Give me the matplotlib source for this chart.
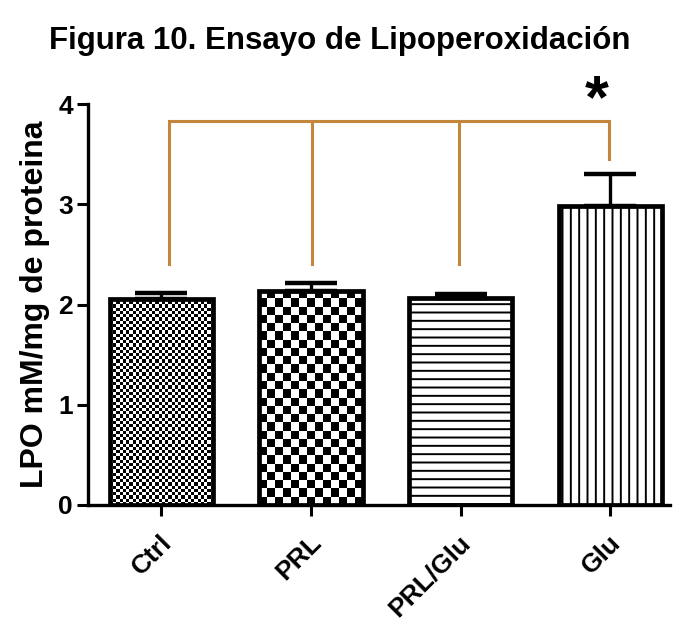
import numpy as np
import matplotlib
matplotlib.use("Agg")
import matplotlib.pyplot as plt
from matplotlib.transforms import ScaledTranslation

plt.rcParams['font.family'] = ['Liberation Sans', 'DejaVu Sans']
plt.rcParams['font.weight'] = 'bold'
plt.rcParams['hatch.linewidth'] = 1.4

# data
groups = ['Ctrl', 'PRL', 'PRL/Glu', 'Glu']
lpo_mean = [2.06, 2.14, 2.07, 2.98]
lpo_sem = [0.06, 0.08, 0.04, 0.32]
fills = ['fine', 'coarse', '--', '||']   # fill style per bar
sig_y = 3.83                            # height of the comparison bracket
drop_to = [2.41, 2.41, 2.41, 3.45]      # where each bracket leg stops

bracket_color = '#C4863C'

fig = plt.figure(figsize=(6.79, 6.28), dpi=100)
ax = fig.add_axes([0.130, 0.196, 0.857, 0.638])

x = np.arange(len(groups))
ax.set_xlim(-0.487, 3.4)
ax.set_ylim(0, 4)

#white base bars
base = ax.bar(x, lpo_mean, width=0.69, color='white', zorder=2)

#checker fills for the first two bars, clipped to the bar rectangle
def checker_fill(bar, cell_px):
    x0, y0 = bar.get_x(), bar.get_y()
    w, h = bar.get_width(), bar.get_height()
    p0 = ax.transData.transform((x0, y0))
    p1 = ax.transData.transform((x0 + w, y0 + h))
    nx = max(1, int(round((p1[0] - p0[0]) / cell_px)))
    ny = max(1, int(round((p1[1] - p0[1]) / cell_px)))
    board = np.add.outer(np.arange(ny), np.arange(nx)) % 2
    ax.imshow(board, cmap='gray', extent=(x0, x0 + w, y0, y0 + h),
              interpolation='nearest', aspect='auto', zorder=2.5,
              clip_path=bar, origin='lower')

for bar, style in zip(base, fills):
    if style == 'fine':
        checker_fill(bar, 3.2)
    elif style == 'coarse':
        checker_fill(bar, 8.2)

ax.set_xlim(-0.487, 3.4)
ax.set_ylim(0, 4)

#outline bars with line hatches
for xi, m, style in zip(x, lpo_mean, fills):
    hatch = style if style in ('--', '||') else None
    ax.bar(xi, m, width=0.69, fill=False, edgecolor='black', linewidth=3.4,
           hatch=hatch, zorder=3)

#upper error bars only
ax.errorbar(x, lpo_mean, yerr=[np.zeros(len(x)), lpo_sem], fmt='none',
            ecolor='black', elinewidth=2.4, capsize=19, capthick=3.2, zorder=4)

#significance bracket
leg_x = [0.05, 1.01, 1.99, 2.99]
ax.plot([leg_x[0], leg_x[-1]], [sig_y, sig_y], color=bracket_color, lw=2.2, zorder=1)
for lx, ly in zip(leg_x, drop_to):
    ax.plot([lx, lx], [sig_y, ly], color=bracket_color, lw=2.2, zorder=1)
ax.text(2.91, 3.87, '*', fontsize=44, fontweight='bold', ha='center',
        va='baseline', clip_on=False)

#axes styling
for side in ['top', 'right']:
    ax.spines[side].set_visible(False)
for side in ['left', 'bottom']:
    ax.spines[side].set_linewidth(2.4)
ax.set_yticks([0, 1, 2, 3, 4])
ax.tick_params(axis='both', direction='out', length=8, width=2.2,
               labelsize=19, pad=3)
ax.set_xticks(x)
ax.set_xticklabels(groups, rotation=45, ha='right', va='top',
                   rotation_mode='anchor', fontsize=19)
for lab in ax.get_xticklabels():
    lab.set_transform(lab.get_transform() + ScaledTranslation(-2 / 100, -10 / 100, fig.dpi_scale_trans))

ax.set_ylabel('LPO mM/mg de proteina', fontsize=23, fontweight='bold', labelpad=6)
fig.suptitle('Figura 10. Ensayo de Lipoperoxidación', fontsize=22.5,
             fontweight='bold', y=0.958)

fig.savefig('out.png', dpi=100)
